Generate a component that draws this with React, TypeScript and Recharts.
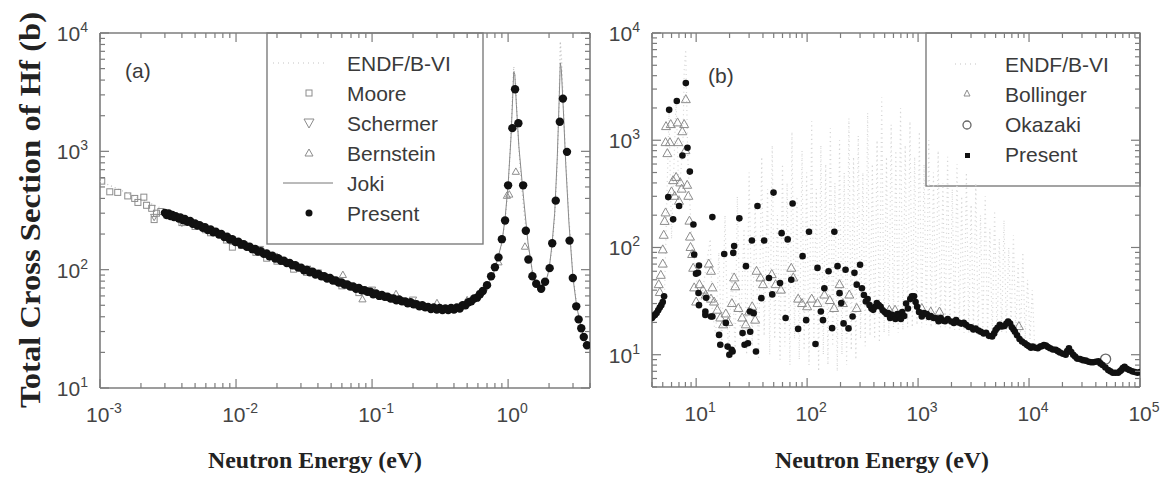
import React from "react";
import { ScatterChart, Scatter, XAxis, YAxis, Customized } from "recharts";

type Pt = [number, number];

// ---------- panel (a): 1 meV .. 4 eV ----------
const aEnergyDomain: Pt = [1e-3, 4];
const aSigmaDomain: Pt = [10, 1e4];

const aPresent: Pt[] = [
  [0.003, 302], [0.0031, 290], [0.0032, 298], [0.0033, 284], [0.0034, 290], [0.0035, 278], [0.0036, 283],
  [0.0038, 270], [0.0039, 276], [0.0041, 262], [0.0042, 268], [0.0044, 254], [0.0046, 258], [0.0048, 244],
  [0.005, 246], [0.0052, 236], [0.0054, 238], [0.0057, 226], [0.0059, 229], [0.0062, 216], [0.0065, 219],
  [0.0068, 207], [0.0071, 209], [0.0075, 198], [0.0078, 200], [0.0082, 189], [0.0086, 190], [0.009, 180],
  [0.0094, 181], [0.0099, 171], [0.0104, 172], [0.0109, 163], [0.0114, 164], [0.012, 156], [0.0126, 156],
  [0.0132, 149], [0.0138, 150], [0.0145, 142], [0.0152, 143], [0.016, 136], [0.0168, 137], [0.0176, 130],
  [0.0185, 131], [0.0194, 124], [0.0204, 125], [0.0214, 119], [0.0225, 119], [0.0236, 114], [0.0248, 114],
  [0.026, 109], [0.0273, 109], [0.0287, 104], [0.0301, 104], [0.0316, 99], [0.0332, 100], [0.0349, 95],
  [0.0366, 96], [0.0384, 91], [0.0404, 92], [0.0424, 88], [0.0445, 88], [0.0467, 84], [0.0491, 85],
  [0.0515, 81], [0.0541, 81], [0.0568, 78], [0.0597, 78], [0.0627, 75], [0.0658, 75], [0.0691, 72],
  [0.0726, 72], [0.0762, 69], [0.08, 70], [0.084, 67], [0.0882, 67], [0.0926, 65], [0.0973, 65],
  [0.102, 62], [0.107, 63], [0.113, 60], [0.118, 61], [0.124, 59], [0.13, 59], [0.137, 57], [0.144, 57],
  [0.151, 55], [0.158, 56], [0.166, 54], [0.175, 54], [0.183, 52], [0.192, 53], [0.202, 51], [0.212, 51],
  [0.223, 49], [0.234, 50], [0.246, 48], [0.258, 48.5], [0.271, 46.5], [0.284, 48], [0.299, 46],
  [0.314, 47.5], [0.329, 45.5], [0.346, 47], [0.363, 45.5], [0.381, 47.5], [0.4, 46], [0.42, 48],
  [0.441, 47], [0.463, 50], [0.486, 50], [0.511, 53], [0.536, 54], [0.563, 57], [0.591, 58], [0.621, 62],
  [0.652, 66], [0.7, 74], [0.75, 88], [0.8, 105], [0.85, 127], [0.9, 181], [0.95, 260], [1.0, 516],
  [1.075, 1570], [1.125, 3350], [1.19, 1730], [1.29, 516], [1.35, 213], [1.41, 122], [1.51, 88],
  [1.61, 76], [1.75, 69], [1.87, 79], [2.02, 103], [2.11, 167], [2.24, 383], [2.4, 1780], [2.53, 2790],
  [2.71, 990], [2.83, 176], [2.99, 85], [3.17, 49], [3.3, 38], [3.45, 32], [3.6, 27], [3.8, 23],
];

const aMoore: Pt[] = [
  [0.00103, 560], [0.00118, 455], [0.00135, 450], [0.0016, 420], [0.0018, 400], [0.0021, 410],
  [0.0019, 370], [0.0022, 350], [0.0024, 330], [0.0026, 300], [0.0025, 265], [0.0028, 310],
  [0.0031, 290], [0.004, 250], [0.005, 232], [0.0065, 205], [0.0085, 178], [0.0094, 155],
  [0.011, 160], [0.014, 140], [0.0168, 125], [0.02, 118], [0.0265, 101], [0.033, 95], [0.0475, 86],
  [0.06, 73], [0.08, 64],
];

const aSchermer: Pt[] = [
  [0.0025, 280], [0.004, 250], [0.015, 150], [0.04, 95], [0.1, 68], [0.2, 56], [0.7, 72],
];

const aBernstein: Pt[] = [
  [0.006, 215], [0.02, 128], [0.035, 100], [0.061, 90], [0.085, 56], [0.15, 62], [0.3, 52], [0.5, 55],
  [0.6, 62], [0.85, 115], [0.98, 420], [1.02, 430], [1.14, 670], [1.33, 156], [1.5, 90],
];

const aJoki: Pt[] = [
  [0.01, 172], [0.03, 104], [0.1, 65], [0.2, 52], [0.3, 47], [0.4, 47], [0.5, 50], [0.6, 58], [0.7, 72],
  [0.8, 100], [0.9, 170], [0.95, 270], [1.0, 520], [1.05, 1300], [1.08, 2800], [1.1, 4700], [1.12, 4500],
  [1.15, 2500], [1.2, 1100], [1.3, 400], [1.4, 170], [1.5, 100], [1.6, 78], [1.75, 68], [1.9, 80],
  [2.0, 100], [2.1, 160], [2.2, 300], [2.3, 900], [2.38, 3000], [2.42, 5600], [2.46, 5000], [2.55, 2200],
  [2.65, 800], [2.8, 250], [3.0, 85], [3.2, 48], [3.5, 30], [3.9, 22],
];

const aEndf: Pt[] = [
  [0.001, 560], [0.002, 395], [0.005, 245], [0.01, 172], [0.02, 124], [0.05, 82], [0.1, 64], [0.2, 51],
  [0.3, 47], [0.4, 46.5], [0.5, 49], [0.6, 56], [0.7, 70], [0.8, 98], [0.9, 165], [0.95, 260], [1.0, 500],
  [1.04, 1100], [1.07, 2400], [1.1, 5200], [1.13, 4000], [1.17, 1800], [1.22, 800], [1.3, 330], [1.4, 160],
  [1.5, 100], [1.65, 72], [1.8, 70], [1.95, 88], [2.1, 150], [2.2, 280], [2.3, 800], [2.37, 2500],
  [2.42, 8500], [2.47, 6000], [2.55, 2400], [2.65, 850], [2.8, 270], [3.0, 90], [3.2, 50], [3.5, 31],
  [4.0, 20],
];

// ---------- panel (b): 4 eV .. 100 keV ----------
const bEnergyDomain: Pt = [4, 1e5];
const bSigmaDomain: Pt = [5, 1e4];

const bEndf: Pt[] = [
  [4, 22], [4.6, 26], [5.2, 40], [5.69, 1800], [6.0, 120], [6.59, 2400], [7.0, 300], [7.6, 900],
  [7.8, 4500], [8.05, 7000], [8.4, 700], [9.0, 150], [10.2, 45], [11.0, 30], [13.4, 120], [14.0, 25],
  [15.0, 15], [16.0, 90], [17.0, 12], [18.2, 200], [19.5, 9], [21.0, 60], [22.5, 11], [23.5, 300],
  [25.0, 14], [27.0, 150], [28.5, 10], [30.0, 500], [32.0, 12], [34.0, 250], [36.5, 9], [39.0, 700],
  [41.0, 15], [44.0, 350], [46.0, 10], [48.5, 900], [51.0, 14], [54.0, 200], [57.0, 9], [60.0, 600],
  [63.0, 12], [66.0, 400], [70.0, 8], [73.0, 1200], [77.0, 14], [81.0, 300], [85.0, 9], [90.0, 800],
  [94.0, 11], [99.0, 500], [104, 8], [110, 1500], [115, 12], [121, 350], [127, 7], [133, 900], [140, 10],
  [147, 600], [154, 8], [162, 1300], [170, 12], [178, 400], [187, 7], [196, 1000], [206, 10], [216, 500],
  [227, 8], [238, 1600], [250, 11], [262, 700], [275, 9], [289, 1100], [303, 14], [318, 500], [334, 12],
  [351, 1800], [369, 15], [387, 600], [406, 14], [427, 1000], [448, 13], [470, 2500], [494, 16],
  [519, 700], [545, 15], [572, 1400], [600, 18], [630, 800], [662, 16], [695, 2000], [730, 17], [766, 900],
  [805, 18], [845, 1500], [887, 18], [931, 700], [978, 19], [1027, 1200], [1078, 18], [1132, 600],
  [1189, 19], [1248, 1000], [1311, 18], [1376, 500], [1445, 19], [1517, 800], [1593, 18], [1673, 400],
  [1757, 18], [1845, 700], [1937, 17], [2034, 350], [2135, 17], [2242, 600], [2354, 17], [2472, 300],
  [2596, 16], [2725, 500], [2862, 16], [3005, 250], [3155, 16], [3313, 400], [3479, 15], [3653, 200],
  [3835, 15], [4027, 300], [4228, 15], [4440, 150], [4662, 15], [4895, 220], [5140, 15], [5397, 120],
  [5667, 16], [5950, 180], [6248, 16], [6560, 100], [6888, 18], [7233, 130], [7594, 16], [7974, 70],
  [8373, 15], [8792, 90], [9231, 14], [9693, 50], [10200, 14], [10700, 40], [11200, 13], [12000, 12],
];

const bBollinger: Pt[] = [
  [4.6, 45], [4.7, 38], [4.8, 55], [5.0, 70], [5.0, 95], [5.1, 130], [5.2, 175], [5.3, 210], [5.5, 750],
  [5.3, 950], [5.35, 1340], [5.9, 1400], [5.8, 950], [6.2, 420], [6.0, 330], [6.4, 300], [6.6, 450],
  [6.8, 1450], [6.9, 950], [7.0, 270], [7.2, 400], [7.5, 1200], [7.8, 1400], [7.4, 350], [8.07, 2390],
  [8.0, 800], [8.3, 380], [8.5, 300], [8.7, 176], [8.8, 125], [8.9, 100], [9.2, 86], [9.4, 64], [9.6, 42],
  [10.0, 31], [10.7, 45], [11.5, 40], [12.2, 36], [13.0, 70], [13.6, 60], [14.0, 42], [13.6, 33],
  [14.5, 31], [15.5, 26], [16.5, 22], [17.5, 19], [18.5, 24], [19.5, 20], [21.0, 30], [22.0, 52],
  [22.5, 43], [24.0, 27], [26.0, 22], [28.0, 19], [30.0, 25], [32.0, 28], [34.0, 21], [35.0, 60],
  [38.0, 52], [40.0, 45], [48.0, 56], [52.0, 45], [58.0, 40], [72.0, 64], [75.0, 52], [83.0, 33],
  [90.0, 30], [100, 28], [110, 33], [124, 30], [143, 36], [160, 32], [175, 27], [196, 45], [210, 30],
  [240, 36], [280, 27], [550, 26], [620, 26], [1080, 27], [1300, 25], [1560, 25], [8100, 18.3],
];

const bOkazaki: Pt[] = [[49000, 9.1]];

const bPresent: Pt[] = [
  [4.0, 22], [4.12, 23], [4.25, 23.5], [4.4, 24.5], [4.55, 26], [4.7, 27.5], [4.85, 29], [5.0, 31],
  [5.14, 35], [5.6, 295], [5.71, 1920], [6.2, 183], [6.69, 2320], [7.02, 244], [7.52, 720], [8.07, 3410],
  [8.35, 850], [8.77, 510], [9.45, 164], [9.6, 86], [9.97, 57], [10.4, 58], [10.5, 37.6], [10.6, 29],
  [10.6, 68], [12.1, 25.3], [12.3, 34], [12.1, 23.5], [13.6, 22.7], [14.0, 192], [14.0, 22.7], [16.1, 15.3],
  [16.5, 12.4], [17.9, 87], [18.5, 19.8], [19.2, 11.9], [19.9, 10], [20.9, 11.1], [21.3, 10.7], [21.6, 89],
  [22.0, 103], [24.5, 187], [26.2, 15.9], [27.3, 12.4], [28.1, 67], [29.3, 12.8], [30.5, 25.3],
  [30.7, 16.4], [31.8, 116], [33, 24.4], [34.6, 10.7], [35.7, 244], [38.7, 33.7], [41, 116], [45.3, 52],
  [48.5, 36.5], [49.8, 325], [57, 46.6], [58.9, 136], [64, 22], [66.8, 119], [72, 50], [74, 257],
  [83, 17.4], [91, 83], [98, 21], [104, 140], [119, 12.6], [124, 64.5], [133, 25.3], [139, 21],
  [143, 41.7], [156, 60], [168, 17.7], [176, 140], [188, 67], [196, 37.5], [203, 30.3], [213, 19.6],
  [222, 62], [236, 17.6], [257, 22.7], [267, 58], [280, 45], [300, 69],
  [312, 41.7], [325, 36], [338, 31.4], [351, 33], [365, 29], [380, 27], [394, 26.2], [410, 28],
  [425, 30.3], [442, 29], [460, 28], [480, 26], [500, 25], [520, 24], [537, 24.4], [560, 22], [580, 23.5],
  [600, 23], [625, 21.5], [650, 24], [675, 22.7], [700, 21.5], [720, 25], [750, 23], [780, 30], [810, 27],
  [850, 33], [880, 35], [920, 35], [950, 31], [980, 28], [1020, 25], [1080, 22.7], [1130, 24.5],
  [1200, 24], [1250, 22.5], [1300, 23], [1380, 22], [1460, 21.9], [1530, 20.5], [1600, 22], [1680, 20.8],
  [1750, 20.5], [1850, 21.5], [1990, 20.4], [2100, 19.8], [2200, 21], [2320, 20], [2450, 19.5],
  [2580, 19.8], [2700, 19], [2850, 18.2], [3000, 18], [3150, 17.2], [3300, 17.5], [3500, 16.8],
  [3680, 16.4], [3900, 15.8], [4100, 16], [4350, 15], [4650, 14.8], [4850, 15.8], [5000, 17], [5200, 17.8],
  [5450, 19], [5700, 18.3], [6000, 18.5], [6250, 19.5], [6480, 20.4], [6750, 19.5], [7000, 18],
  [7250, 17.2], [7470, 16.4], [7800, 15.2], [8200, 14], [8650, 13.3], [9150, 12.8], [9600, 12.3],
  [10000, 12], [10400, 11.6], [10800, 11.9], [11400, 11.6], [12000, 11.5], [12600, 11.9], [13000, 12],
  [13600, 12.3], [14200, 12.2], [14800, 11.8], [15500, 11.5], [16400, 11.2], [17400, 11.1], [18200, 10.8],
  [19000, 10.5], [20200, 10.2], [21400, 10.0], [22100, 10.8], [22900, 11.5], [24000, 10.6], [25000, 10],
  [26000, 9.6], [27100, 9.2], [28800, 9.1], [30600, 8.9], [32500, 8.8], [34500, 8.6], [36200, 8.5],
  [38000, 8.5], [40000, 8.6], [42200, 8.7], [44000, 8.3], [46000, 8], [48800, 7.6], [51700, 7.2],
  [54000, 7], [57000, 6.8], [60000, 6.8], [63500, 6.8], [66000, 7], [68000, 7.2], [70000, 7.5],
  [72600, 7.7], [76000, 7.4], [80000, 7.2], [85000, 7], [90000, 6.9], [95000, 6.8], [100000, 6.9],
];

// ---------- helpers ----------
const AXIS = "#7c7c7c";
const TEXT = "#3a3a3a";
const HOLLOW = "#8c8c8c";
const SANS = "'Liberation Sans', Arial, sans-serif";
const SERIF = "'Liberation Serif', 'Times New Roman', serif";

const toXY = (pts: Pt[]) => pts.map(([e, s]) => ({ e, s }));

// majors plus 2..9 minors inside the domain
function logTicks(domain: Pt) {
  const out: number[] = [];
  const lo = Math.floor(Math.log10(domain[0]));
  const hi = Math.ceil(Math.log10(domain[1]));
  for (let d = lo; d <= hi; d++) {
    for (let k = 1; k <= 9; k++) {
      const v = k * Math.pow(10, d);
      if (v >= domain[0] * 0.999 && v <= domain[1] * 1.001) out.push(v);
    }
  }
  return out;
}

const isMajor = (v: number) => {
  const l = Math.log10(v);
  return Math.abs(l - Math.round(l)) < 1e-6;
};

type Side = "bottom" | "top" | "left" | "right";

const makeTick = (side: Side, labels: boolean) => (p: any) => {
  const v = p.payload.value;
  const major = isMajor(v);
  const len = major ? 9 : 5;
  const { x, y } = p;
  let line: React.ReactNode;
  if (side === "bottom") line = <line x1={x} x2={x} y1={y} y2={y - len} />;
  else if (side === "top") line = <line x1={x} x2={x} y1={y} y2={y + len} />;
  else if (side === "left") line = <line x1={x} x2={x + len} y1={y} y2={y} />;
  else line = <line x1={x} x2={x - len} y1={y} y2={y} />;
  let label: React.ReactNode = null;
  if (labels && major) {
    const exp = String(Math.round(Math.log10(v)));
    const common = { fill: "#444", fontFamily: SANS, fontSize: 21, stroke: "none" };
    if (side === "bottom") {
      label = (
        <text x={x + 4} y={y + 34} textAnchor="middle" {...common}>
          10<tspan dy={-9} fontSize={14}>{exp}</tspan>
        </text>
      );
    } else {
      label = (
        <text x={x - 12} y={y + 8} textAnchor="end" {...common}>
          10<tspan dy={-9} fontSize={14}>{exp}</tspan>
        </text>
      );
    }
  }
  return (
    <g stroke={AXIS} strokeWidth={1.2}>
      {line}
      {label}
    </g>
  );
};

const filledDot = (r: number) => (p: any) => <circle cx={p.cx} cy={p.cy} r={r} fill="#111" />;
const squareMark = (p: any) => (
  <rect x={p.cx - 3} y={p.cy - 3} width={6} height={6} fill="none" stroke={HOLLOW} strokeWidth={1} />
);
const triUp = (s: number) => (p: any) => (
  <path
    d={`M${p.cx},${p.cy - s} L${p.cx + s * 0.9},${p.cy + s * 0.6} L${p.cx - s * 0.9},${p.cy + s * 0.6} Z`}
    fill="none"
    stroke={HOLLOW}
    strokeWidth={1}
  />
);
const triDown = (s: number) => (p: any) => (
  <path
    d={`M${p.cx},${p.cy + s} L${p.cx + s * 0.9},${p.cy - s * 0.6} L${p.cx - s * 0.9},${p.cy - s * 0.6} Z`}
    fill="none"
    stroke={HOLLOW}
    strokeWidth={1}
  />
);
const ringMark = (p: any) => <circle cx={p.cx} cy={p.cy} r={5} fill="none" stroke="#666" strokeWidth={1.3} />;
const noMark = () => <g />;

// axes are 1px thick (a 0px axis is not drawn); margins below subtract that pixel
function frameAxes(xd: Pt, yd: Pt) {
  const xt = logTicks(xd);
  const yt = logTicks(yd);
  const common = {
    type: "number" as const,
    scale: "log" as const,
    allowDataOverflow: true,
    interval: 0 as const,
    tickSize: 0,
    tickMargin: 0,
    tickLine: false,
    axisLine: { stroke: AXIS, strokeWidth: 1.6 },
  };
  return [
    <XAxis key="xb" xAxisId="b" orientation="bottom" dataKey="e" domain={xd} ticks={xt} height={1} tick={makeTick("bottom", true)} {...common} />,
    <XAxis key="xt" xAxisId="t" orientation="top" dataKey="e" domain={xd} ticks={xt} height={1} tick={makeTick("top", false)} {...common} />,
    <YAxis key="yl" yAxisId="l" orientation="left" dataKey="s" domain={yd} ticks={yt} width={1} tick={makeTick("left", true)} {...common} />,
    <YAxis key="yr" yAxisId="r" orientation="right" dataKey="s" domain={yd} ticks={yt} width={1} tick={makeTick("right", false)} {...common} />,
  ];
}

const legendText = { fill: TEXT, fontFamily: SANS, fontSize: 21 };

function DecorA() {
  return (
    <g>
      <text
        transform="translate(40,210) rotate(-90)"
        textAnchor="middle"
        fontFamily={SERIF}
        fontWeight="bold"
        fontSize={29}
        fill="#222"
        textLength={396}
        lengthAdjust="spacingAndGlyphs"
      >
        Total Cross Section of Hf (b)
      </text>
      <text x={315} y={468} textAnchor="middle" fontFamily={SERIF} fontWeight="bold" fontSize={24} fill="#222" textLength={214} lengthAdjust="spacingAndGlyphs">
        Neutron Energy (eV)
      </text>
      <text x={125} y={78} {...legendText}>(a)</text>
      <rect x={267} y={33} width={216} height={211} fill="#fff" stroke={AXIS} strokeWidth={1.4} />
      <line x1={273} x2={327} y1={63} y2={63} stroke="#c4c4c4" strokeWidth={1.2} strokeDasharray="1 4" />
      <rect x={306} y={90} width={6} height={6} fill="none" stroke={HOLLOW} />
      <path d="M309,128 L314,119 L304,119 Z" fill="none" stroke={HOLLOW} />
      <path d="M309,149 L313,156 L305,156 Z" fill="none" stroke={HOLLOW} />
      <line x1={283} x2={333} y1={183} y2={183} stroke="#777" strokeWidth={1} />
      <circle cx={309} cy={213} r={3.5} fill="#111" />
      {["ENDF/B-VI", "Moore", "Schermer", "Bernstein", "Joki", "Present"].map((t, i) => (
        <text key={t} x={347} y={70.5 + i * 30} {...legendText}>{t}</text>
      ))}
    </g>
  );
}

const OFF_B = 600;

function DecorB() {
  return (
    <g>
      <text x={882 - OFF_B} y={468} textAnchor="middle" fontFamily={SERIF} fontWeight="bold" fontSize={24} fill="#222" textLength={214} lengthAdjust="spacingAndGlyphs">
        Neutron Energy (eV)
      </text>
      <text x={708 - OFF_B} y={83} {...legendText}>(b)</text>
      <rect x={926 - OFF_B} y={33} width={214} height={153} fill="#fff" stroke={AXIS} strokeWidth={1.4} />
      <line x1={955 - OFF_B} x2={980 - OFF_B} y1={64} y2={64} stroke="#c4c4c4" strokeWidth={1.2} strokeDasharray="1 4" />
      <path d={`M${967 - OFF_B},${90} L${970 - OFF_B},${96} L${964 - OFF_B},${96} Z`} fill="none" stroke={HOLLOW} />
      <circle cx={967 - OFF_B} cy={125} r={4} fill="none" stroke="#666" strokeWidth={1.3} />
      <rect x={965 - OFF_B} y={153} width={5} height={5} fill="#111" />
      {["ENDF/B-VI", "Bollinger", "Okazaki", "Present"].map((t, i) => (
        <text key={t} x={1005 - OFF_B} y={72 + i * 30} {...legendText}>{t}</text>
      ))}
    </g>
  );
}

const ids = { xAxisId: "b", yAxisId: "l" };

export default function App() {
  return (
    <div style={{ position: "relative", width: 1162, height: 477, background: "#fff", overflow: "hidden" }}>
      <style>{"body{margin:0}"}</style>
      <div style={{ position: "absolute", left: 0, top: 0 }}>
        <ScatterChart width={600} height={477} margin={{ top: 32, right: 9, bottom: 88, left: 99 }}>
          {frameAxes(aEnergyDomain, aSigmaDomain)}
          <Scatter {...ids} data={toXY(aEndf)} shape={noMark} line={{ stroke: "#c0c0c0", strokeWidth: 1.3, strokeDasharray: "1 3" }} lineType="joint" isAnimationActive={false} />
          <Scatter {...ids} data={toXY(aJoki)} shape={noMark} line={{ stroke: "#8a8a8a", strokeWidth: 1 }} lineType="joint" isAnimationActive={false} />
          <Scatter {...ids} data={toXY(aMoore)} shape={squareMark} isAnimationActive={false} />
          <Scatter {...ids} data={toXY(aSchermer)} shape={triDown(4)} isAnimationActive={false} />
          <Scatter {...ids} data={toXY(aBernstein)} shape={triUp(4)} isAnimationActive={false} />
          <Scatter {...ids} data={toXY(aPresent)} shape={filledDot(4.2)} isAnimationActive={false} />
          <Customized component={DecorA} />
        </ScatterChart>
      </div>
      <div style={{ position: "absolute", left: OFF_B, top: 0 }}>
        <ScatterChart width={562} height={477} margin={{ top: 32, right: 21, bottom: 89, left: 51 }}>
          {frameAxes(bEnergyDomain, bSigmaDomain)}
          <Scatter {...ids} data={toXY(bEndf)} shape={noMark} line={{ stroke: "#d6d6d6", strokeWidth: 1.2, strokeDasharray: "1 3.5" }} lineType="joint" isAnimationActive={false} />
          <Scatter {...ids} data={toXY(bBollinger)} shape={triUp(5)} isAnimationActive={false} />
          <Scatter {...ids} data={toXY(bOkazaki)} shape={ringMark} isAnimationActive={false} />
          <Scatter {...ids} data={toXY(bPresent)} shape={filledDot(3.3)} isAnimationActive={false} />
          <Customized component={DecorB} />
        </ScatterChart>
      </div>
    </div>
  );
}
